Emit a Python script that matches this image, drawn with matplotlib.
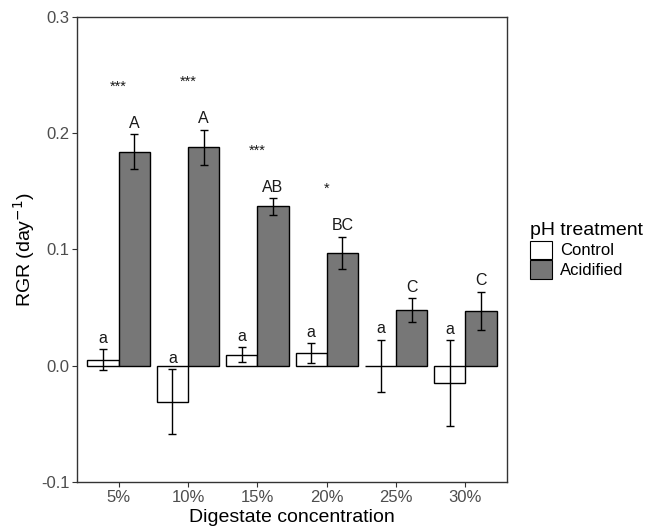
import numpy as np
import matplotlib
matplotlib.use('Agg')
import matplotlib.pyplot as plt
from matplotlib.patches import Patch

plt.rcParams['font.family'] = ['Liberation Sans', 'DejaVu Sans']

conc = ['5%', '10%', '15%', '20%', '25%', '30%']
ctrl = [0.005, -0.031, 0.0095, 0.011, 0.0, -0.015]
ctrl_se = [0.009, 0.028, 0.0065, 0.0085, 0.0225, 0.037]
acid = [0.184, 0.188, 0.137, 0.097, 0.048, 0.047]
acid_se = [0.015, 0.015, 0.007, 0.014, 0.010, 0.0165]
ctrl_lab = ['a', 'a', 'a', 'a', 'a', 'a']
acid_lab = ['A', 'A', 'AB', 'BC', 'C', 'C']
stars = ['***', '***', '***', '*', '', '']

x = np.arange(1, len(conc) + 1)
w = 0.45

fig = plt.figure(figsize=(6.46, 5.30), dpi=100)
ax = fig.add_axes([0.1192, 0.0906, 0.6658, 0.8774])

ax.bar(x - w/2, ctrl, w, color='white', edgecolor='black', linewidth=1.0, zorder=2)
ax.bar(x + w/2, acid, w, color='#777777', edgecolor='black', linewidth=1.0, zorder=2)
ax.errorbar(x - w/2, ctrl, yerr=ctrl_se, fmt='none', ecolor='black', elinewidth=1.0,
            capsize=3, capthick=1.0, zorder=3)
ax.errorbar(x + w/2, acid, yerr=acid_se, fmt='none', ecolor='black', elinewidth=1.0,
            capsize=3, capthick=1.0, zorder=3)

for i in range(len(conc)):
    ax.text(x[i] - w/2, ctrl[i] + ctrl_se[i] + 0.003, ctrl_lab[i], ha='center', va='bottom',
            fontsize=11.5, color='#1a1a1a')
    ax.text(x[i] + w/2, acid[i] + acid_se[i] + 0.003, acid_lab[i], ha='center', va='bottom',
            fontsize=11.5, color='#1a1a1a')
    if stars[i]:
        ax.text(x[i], acid[i] + acid_se[i] + 0.041, stars[i], ha='center', va='center',
                fontsize=10.5, color='#1a1a1a')

ax.set_xlim(0.4, 6.6)
ax.set_ylim(-0.1, 0.3)
ax.set_xticks(x)
ax.set_xticklabels(conc)
ax.set_yticks([-0.1, 0.0, 0.1, 0.2, 0.3])
ax.set_yticklabels(['-0.1', '0.0', '0.1', '0.2', '0.3'])
ax.tick_params(axis='both', colors='#333333', labelcolor='#4d4d4d', labelsize=12,
               length=3.5, width=0.8, pad=2)
for s in ax.spines.values():
    s.set_color('#333333')
    s.set_linewidth(1.0)

ax.set_xlabel('Digestate concentration', fontsize=14, labelpad=3)
ax.set_ylabel('RGR (day$^{-1}$)', fontsize=14, labelpad=3)

handles = [Patch(facecolor='white', edgecolor='black', linewidth=0.8),
           Patch(facecolor='#777777', edgecolor='black', linewidth=0.8)]
leg = fig.legend(handles, ['Control', 'Acidified'], title='pH treatment',
                 loc='upper left', bbox_to_anchor=(0.808, 0.597), frameon=False,
                 fontsize=12, title_fontsize=14, handlelength=1.3, handleheight=1.3,
                 handletextpad=0.5, labelspacing=0.1, borderpad=0)
leg._legend_box.align = 'left'

fig.savefig('out.png', dpi=100)
